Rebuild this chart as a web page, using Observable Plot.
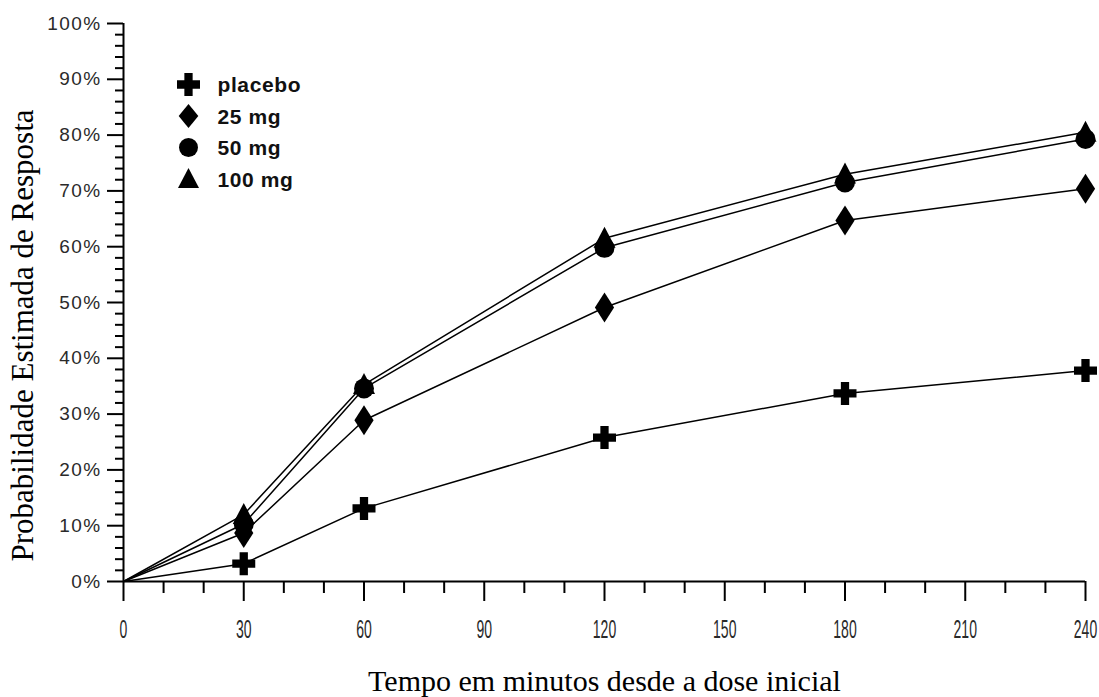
<!DOCTYPE html>
<html>
<head>
<meta charset="utf-8">
<script src="https://cdn.jsdelivr.net/npm/d3@7"></script>
<script src="https://cdn.jsdelivr.net/npm/@observablehq/plot@0.6"></script>
<style>
  html, body { margin: 0; padding: 0; background: #fff; }
  g[aria-label="y-axis tick label"] text { letter-spacing: 1.4px; }
  .legend-text text { letter-spacing: 0.6px; }
</style>
</head>
<body>
<div id="chart"></div>
<script>
// ---- data ----
const times   = [0, 30, 60, 120, 180, 240];
const placebo = [0, 3.2, 13.1, 25.8, 33.7, 37.8];
const mg25    = [0, 8.7, 28.9, 49.1, 64.7, 70.4];
const mg50    = [0, 10.3, 34.6, 59.8, 71.5, 79.3];
const mg100   = [0, 12.0, 35.3, 61.5, 73.0, 80.5];
const seriesNames = ["placebo", "25 mg", "50 mg", "100 mg"];
const xMajorTicks = [0, 30, 60, 90, 120, 150, 180, 210, 240];
const yMajorTicks = [0, 10, 20, 30, 40, 50, 60, 70, 80, 90, 100];
const xTitle = "Tempo em minutos desde a dose inicial";
const yTitle = "Probabilidade Estimada de Resposta";

// ---- symbols ----
const plusSym = {draw(ctx, size) {
  const r = Math.sqrt(size / Math.PI), t = r * 0.36;
  ctx.moveTo(-t, -r); ctx.lineTo(t, -r); ctx.lineTo(t, -t); ctx.lineTo(r, -t);
  ctx.lineTo(r, t); ctx.lineTo(t, t); ctx.lineTo(t, r); ctx.lineTo(-t, r);
  ctx.lineTo(-t, t); ctx.lineTo(-r, t); ctx.lineTo(-r, -t); ctx.lineTo(-t, -t);
  ctx.closePath();
}};
const makeDiamond = (ratio) => ({draw(ctx, size) {
  const r = Math.sqrt(size / Math.PI), w = r * ratio;
  ctx.moveTo(0, -r); ctx.lineTo(w, 0); ctx.lineTo(0, r); ctx.lineTo(-w, 0); ctx.closePath();
}});
const triSym = {draw(ctx, size) {
  const r = Math.sqrt(size / Math.PI);
  ctx.moveTo(0, -r * 1.05); ctx.lineTo(r, r * 0.85); ctx.lineTo(-r, r * 0.85); ctx.closePath();
}};
const symbols = [plusSym, makeDiamond(0.64), "circle", triSym];
const legendSymbols = [plusSym, makeDiamond(0.82), "circle", triSym];
const radii = [11.5, 15, 10, 11];
const legendRadii = [11.5, 12, 9.5, 10.5];

// ---- tidy table ----
const values = [placebo, mg25, mg50, mg100];
const rows = [];
values.forEach((vals, s) => vals.forEach((v, i) => rows.push({series: seriesNames[s], t: times[i], p: v})));

const xMinorTicks = d3.range(0, 241, 10).filter(d => d % 30 !== 0);
const yMinorTicks = d3.range(0, 101, 2).filter(d => d % 10 !== 0);

const tickFont = "'Liberation Sans', Arial, sans-serif";
const serif = "'Liberation Serif', 'Times New Roman', serif";

const marks = [
  Plot.axisY({ticks: yMajorTicks, tickSize: 16, tickPadding: 6, tickFormat: d => d + "%", label: null,
              fontSize: 19, fontFamily: tickFont, fill: "#2a2a2a", strokeWidth: 2}),
  Plot.axisY({ticks: yMinorTicks, tickSize: 8, tickFormat: () => "", label: null, strokeWidth: 2}),
  Plot.axisX({ticks: xMajorTicks, tickSize: 20, tickPadding: 19, tickFormat: d => String(d), label: null,
              fontSize: 25, fontFamily: tickFont, fill: "#2a2a2a", strokeWidth: 2}),
  Plot.axisX({ticks: xMinorTicks, tickSize: 12, tickFormat: () => "", label: null, strokeWidth: 2}),
  Plot.ruleX([0], {stroke: "black", strokeWidth: 2}),
  Plot.ruleY([0], {stroke: "black", strokeWidth: 2}),
  Plot.line(rows, {x: "t", y: "p", z: "series", stroke: "black", strokeWidth: 1.5}),
  ...seriesNames.map((name, s) =>
    Plot.dot(rows.filter(d => d.series === name && d.t > 0),
      {x: "t", y: "p", symbol: symbols[s], r: radii[s], fill: "black", stroke: "none"})),
  // legend
  ...seriesNames.map((name, s) =>
    Plot.dot([name], {frameAnchor: "top-left", dx: 65, dy: 61 + 31.5 * s, symbol: legendSymbols[s], r: legendRadii[s], fill: "black", stroke: "none"})),
  ...seriesNames.map((name, s) =>
    Plot.text([name], {frameAnchor: "top-left", dx: 94, dy: 62 + 31.5 * s, textAnchor: "start", lineAnchor: "middle",
      fontWeight: "bold", fontSize: 21, fontFamily: tickFont, fill: "#111", className: "legend-text"})),
  // titles
  Plot.text([xTitle], {frameAnchor: "bottom", dy: 100, lineAnchor: "middle", fontSize: 30, fontFamily: serif, fill: "black"}),
  Plot.text([yTitle], {frameAnchor: "left", dx: -100, dy: 33, rotate: -90, textAnchor: "middle", lineAnchor: "middle",
    fontSize: 31, fontFamily: serif, fill: "black"})
];

const chart = Plot.plot({
  width: 1099,
  height: 697,
  marginLeft: 123,
  marginRight: 14,
  marginTop: 23,
  marginBottom: 116,
  x: {domain: [0, 240]},
  y: {domain: [0, 100]},
  style: {background: "white", color: "black", overflow: "visible"},
  marks
});
document.getElementById("chart").appendChild(chart);

// condense the x tick labels horizontally (narrow bitmap-like font in the reference)
d3.select(chart).selectAll('g[aria-label="x-axis tick label"] text').each(function() {
  const b = this.getBBox();
  const cx = b.x + b.width / 2;
  const t = this.getAttribute("transform") || "";
  this.setAttribute("transform", `${t} translate(${cx},0) scale(0.56,1) translate(${-cx},0)`);
});
</script>
</body>
</html>
